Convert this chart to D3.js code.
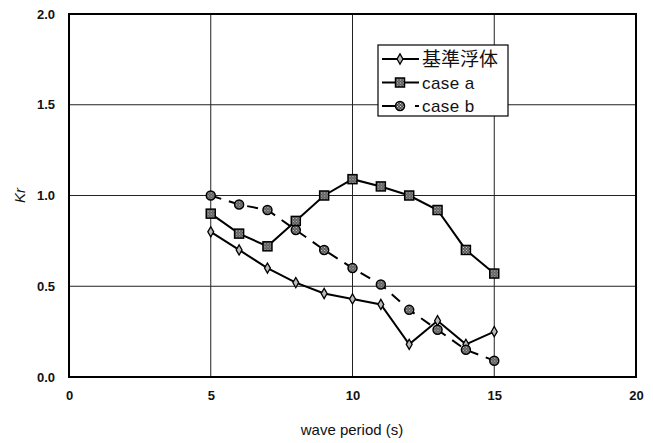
<!DOCTYPE html>
<html><head><meta charset="utf-8">
<script src="https://cdn.jsdelivr.net/npm/d3@7"></script>
<style>body{margin:0;background:#fff}svg{display:block}</style>
</head><body>
<svg id="c" width="653" height="443"></svg>
<script>
const periods = [5,6,7,8,9,10,11,12,13,14,15];
const seriesNames = ["基準浮体","case a","case b"];
const kijun = [0.80,0.70,0.60,0.52,0.46,0.43,0.40,0.18,0.31,0.18,0.25];
const caseA = [0.90,0.79,0.72,0.86,1.00,1.09,1.05,1.00,0.92,0.70,0.57];
const caseB = [1.00,0.95,0.92,0.81,0.70,0.60,0.51,0.37,0.26,0.15,0.09];
const xTicks = [0,5,10,15,20];
const yTicks = [0,0.5,1.0,1.5,2.0];

const svg = d3.select("#c");
const m = {l:69, r:636, t:14, b:377};
const x = d3.scaleLinear().domain([0,20]).range([m.l,m.r]);
const y = d3.scaleLinear().domain([0,2]).range([m.b,m.t]);
const font = "'Liberation Sans', Arial, sans-serif";

const g = svg.append("g");
g.selectAll("line.v").data(xTicks.slice(1,-1)).join("line")
 .attr("x1",d=>x(d)).attr("x2",d=>x(d)).attr("y1",m.t).attr("y2",m.b)
 .attr("stroke","#222").attr("stroke-width",1);
g.selectAll("line.h").data(yTicks.slice(1,-1)).join("line")
 .attr("y1",d=>y(d)).attr("y2",d=>y(d)).attr("x1",m.l).attr("x2",m.r)
 .attr("stroke","#222").attr("stroke-width",1);
svg.append("rect").attr("x",m.l).attr("y",m.t).attr("width",m.r-m.l).attr("height",m.b-m.t)
 .attr("fill","none").attr("stroke","#000").attr("stroke-width",2);

const xa = svg.append("g").attr("transform",`translate(0,${m.b})`)
 .call(d3.axisBottom(x).tickValues(xTicks).tickSize(0).tickPadding(14).tickFormat(d3.format("d")));
const ya = svg.append("g").attr("transform",`translate(${m.l},0)`)
 .call(d3.axisLeft(y).tickValues(yTicks).tickSize(0).tickPadding(14).tickFormat(d3.format(".1f")));
[xa,ya].forEach(a=>{a.select(".domain").remove();
 a.selectAll("text").attr("font-family",font).attr("font-size",13).attr("font-weight","bold").attr("fill","#111");});

svg.append("text").attr("x",352).attr("y",435).attr("text-anchor","middle")
 .attr("font-family",font).attr("font-size",15).attr("fill","#111").text("wave period (s)");
svg.append("text").attr("transform",`translate(20,${y(1.0)}) rotate(-90)`).attr("text-anchor","middle")
 .attr("dy","0.35em").attr("font-family",font).attr("font-size",15).attr("font-style","italic").attr("fill","#111").text("Kr");

const defs = svg.append("defs");
const pat = defs.append("pattern").attr("id","hatch").attr("width",3).attr("height",3).attr("patternUnits","userSpaceOnUse");
pat.append("rect").attr("width",3).attr("height",3).attr("fill","#555");
pat.append("rect").attr("width",1).attr("height",1).attr("fill","#ddd");
pat.append("rect").attr("x",1.5).attr("y",1.5).attr("width",1).attr("height",1).attr("fill","#ddd");

const line = d3.line().x((d,i)=>x(periods[i])).y(d=>y(d));
const series = [
 {name:seriesNames[0], vals:kijun, dash:null, shape:"diamond"},
 {name:seriesNames[1], vals:caseA, dash:null, shape:"square"},
 {name:seriesNames[2], vals:caseB, dash:"11,8", shape:"circle"}
];
function drawMarker(sel, shape){
 if(shape==="diamond"){
  sel.append("path").attr("d",d3.symbol(d3.symbolDiamond,30)()).attr("fill","#bbb").attr("stroke","#000").attr("stroke-width",1.3);
 } else if(shape==="square"){
  sel.append("rect").attr("x",-4.5).attr("y",-4.5).attr("width",9).attr("height",9).attr("fill","url(#hatch)").attr("stroke","#000").attr("stroke-width",1.5);
 } else {
  sel.append("circle").attr("r",4.5).attr("fill","url(#hatch)").attr("stroke","#000").attr("stroke-width",1.5);
 }
}
series.forEach(s=>{
 svg.append("path").datum(s.vals).attr("d",line).attr("fill","none").attr("stroke","#000")
  .attr("stroke-width",2).attr("stroke-dasharray",s.dash);
 svg.append("g").selectAll("g").data(s.vals).join("g")
  .attr("transform",(d,i)=>`translate(${x(periods[i])},${y(d)})`)
  .each(function(){drawMarker(d3.select(this), s.shape);});
});

const lg = svg.append("g");
lg.append("rect").attr("x",378).attr("y",45).attr("width",130).attr("height",71)
 .attr("fill","#fff").attr("stroke","#000").attr("stroke-width",1.2);
const rowY = [59, 82.5, 106];
series.forEach((s,i)=>{
 const yy = rowY[i];
 lg.append("line").attr("x1",382).attr("x2",419).attr("y1",yy).attr("y2",yy).attr("stroke","#000").attr("stroke-width",2)
   .attr("stroke-dasharray", s.dash ? "22,11,4" : null);
 drawMarker(lg.append("g").attr("transform",`translate(400,${yy})`), s.shape);
 lg.append("text").attr("x",422).attr("y",yy).attr("dy","0.36em")
  .attr("font-family", i===0 ? "'Noto Sans CJK JP', sans-serif" : font)
  .attr("font-size", i===0?19:17).attr("letter-spacing", i===0?0:0.4).attr("fill","#111").text(s.name);
});
</script>
</body></html>
